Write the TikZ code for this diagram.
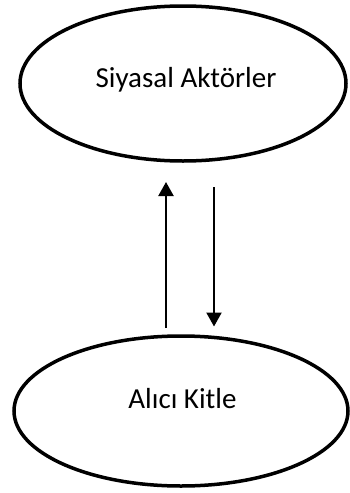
\documentclass[tikz,border=0pt]{standalone}
\usepackage{fontspec}
\setmainfont{Carlito}
\usetikzlibrary{shapes.geometric,arrows.meta}
\begin{document}
\begin{tikzpicture}[x=1pt,y=-1pt,
 oval/.style={draw=black,line width=3.5pt,ellipse,inner sep=0pt,fill=white},
 lbl/.style={font=\fontsize{29}{35}\selectfont,anchor=base,inner sep=0pt},
 arr/.style={line width=2.2pt,-{Triangle[width=15pt,length=14pt]}}]
\useasboundingbox (0,0) rectangle (349,493);
\node[oval,minimum width=326pt,minimum height=155pt] (top) at (183,83.5) {};
\node[oval,minimum width=334pt,minimum height=150pt] (bot) at (181,411) {};
\node[lbl] (toptext) at (186,87) {Siyasal Aktörler};
\node[lbl] (bottext) at (182.5,408) {Alıcı Kitle};
\coordinate (ux) at (166,0);
\coordinate (dx) at (214,0);
\draw[arr,shorten <=6.25pt,shorten >=19.25pt] (bot.north -| ux) -- (top.south -| ux);
\draw[arr,shorten <=24.25pt,shorten >=7.75pt] (top.south -| dx) -- (bot.north -| dx);
\end{tikzpicture}
\end{document}
